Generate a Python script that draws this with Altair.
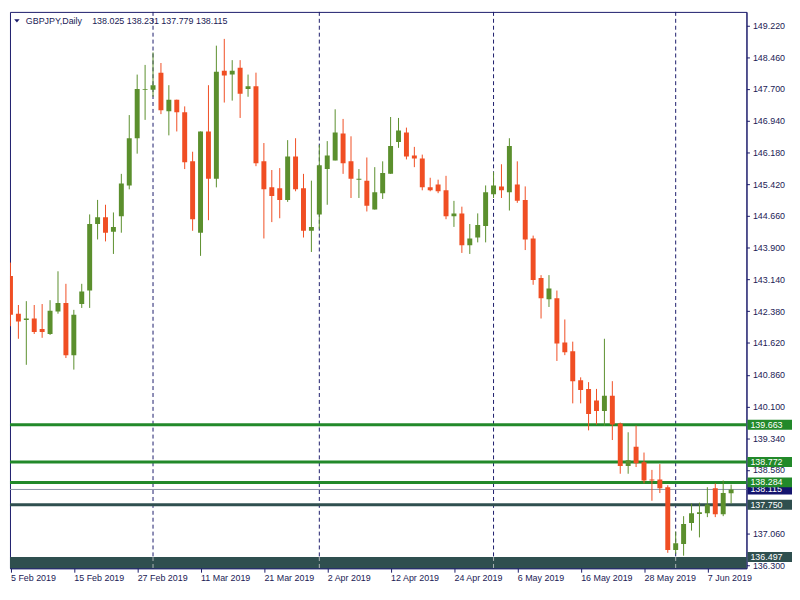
import altair as alt
import pandas as pd

symbol = "GBPJPY,Daily"

opens = [143.221, 142.321, 142.171, 142.206, 141.952, 141.836, 142.374, 142.575, 141.329, 142.552,
         142.875, 144.467, 144.628, 144.282, 144.651, 145.390, 146.520, 147.680, 147.681, 148.089,
         147.166, 147.443, 147.143, 145.967, 144.259, 146.682, 145.551, 148.135, 148.043, 148.205,
         147.697, 147.766, 145.967, 145.344, 145.320, 145.044, 146.082, 145.320, 144.305, 144.697,
         145.782, 145.990, 146.636, 145.967, 145.528, 145.505, 144.813, 145.205, 145.667, 146.428,
         146.659, 146.105, 146.036, 145.344, 145.413, 145.274, 144.651, 144.721, 143.959, 144.144,
         144.421, 145.182, 145.367, 145.228, 145.413, 145.044, 144.121, 143.175, 142.667, 142.690,
         141.629, 141.421, 140.729, 140.521, 140.244, 139.991, 140.360, 139.691, 138.675, 139.137,
         138.768, 138.352, 138.352, 138.168, 136.668, 136.807, 137.314, 137.529, 137.545, 138.145,
         137.522, 138.025]
highs = [143.544, 142.529, 142.621, 142.529, 142.552, 142.644, 143.336, 143.036, 142.413, 143.036,
         144.697, 145.044, 144.928, 144.744, 145.667, 147.074, 148.043, 148.274, 148.574, 148.320,
         147.789, 147.443, 147.282, 146.197, 146.682, 147.789, 148.735, 148.897, 148.389, 148.389,
         148.043, 148.089, 146.405, 145.759, 145.805, 146.474, 146.520, 145.667, 145.505, 146.359,
         146.451, 147.212, 146.982, 146.566, 145.782, 146.059, 145.828, 145.967, 147.028, 147.005,
         146.774, 146.313, 146.128, 145.574, 145.528, 145.620, 145.021, 144.882, 144.467, 144.721,
         145.390, 145.713, 145.897, 146.520, 145.967, 145.367, 144.190, 143.244, 143.244, 142.875,
         142.183, 141.652, 140.798, 140.683, 140.521, 141.721, 140.706, 139.714, 139.483, 139.644,
         138.998, 138.583, 138.722, 138.214, 137.106, 137.476, 137.776, 137.799, 138.168, 138.260,
         138.329, 138.231]
lows = [142.021, 141.721, 141.098, 141.836, 141.744, 141.813, 142.321, 141.260, 140.983, 142.459,
        142.459, 144.098, 144.051, 143.751, 144.259, 145.297, 146.151, 146.959, 147.512, 147.097,
        146.589, 146.682, 145.782, 144.305, 143.705, 144.559, 145.344, 147.374, 147.420, 147.005,
        147.512, 145.851, 144.121, 144.513, 144.605, 144.997, 145.251, 144.144, 143.798, 144.351,
        144.928, 145.990, 145.667, 145.090, 145.090, 144.767, 144.813, 145.067, 145.667, 146.290,
        146.013, 145.828, 145.274, 145.251, 145.205, 144.582, 144.398, 143.775, 143.751, 144.028,
        144.028, 145.090, 145.090, 144.790, 144.974, 143.844, 143.013, 142.206, 142.482, 141.190,
        141.329, 140.175, 140.175, 139.529, 139.668, 139.644, 139.298, 138.491, 138.491, 138.652,
        138.260, 137.845, 138.029, 136.599, 136.576, 136.530, 137.130, 136.968, 137.453, 137.453,
        137.476, 137.779]
closes = [142.298, 142.136, 142.206, 141.883, 141.883, 142.390, 142.575, 141.329, 142.298, 142.852,
          144.467, 144.628, 144.259, 144.398, 145.436, 146.520, 147.697, 147.700, 147.789, 147.189,
          147.443, 147.143, 145.943, 144.582, 146.682, 145.551, 148.112, 148.020, 148.135, 147.582,
          147.766, 145.920, 145.297, 145.136, 145.044, 146.082, 145.297, 144.305, 144.398, 145.874,
          146.105, 146.659, 145.920, 145.551, 145.551, 144.905, 145.228, 145.690, 146.336, 146.705,
          146.082, 146.036, 145.344, 145.274, 145.251, 144.651, 144.721, 143.959, 144.121, 144.444,
          145.228, 145.390, 145.274, 146.336, 145.021, 144.098, 143.129, 142.690, 142.921, 141.606,
          141.398, 140.706, 140.498, 139.921, 139.991, 140.360, 139.668, 138.675, 138.814, 138.745,
          138.329, 138.329, 138.145, 136.668, 136.830, 137.291, 137.545, 137.568, 137.753, 137.522,
          138.029, 138.115]

date_tick_index = [0, 8, 16, 24, 32, 40, 48, 56, 64, 72, 80, 88]
date_labels = ["5 Feb 2019", "15 Feb 2019", "27 Feb 2019", "11 Mar 2019", "21 Mar 2019",
               "2 Apr 2019", "12 Apr 2019", "24 Apr 2019", "6 May 2019", "16 May 2019",
               "28 May 2019", "7 Jun 2019"]
month_start_index = [18, 39, 61, 84]

price_ticks = [136.300, 137.060, 138.580, 139.340, 140.100, 140.860, 141.620, 142.380, 143.140,
               143.900, 144.660, 145.420, 146.180, 146.940, 147.700, 148.460, 149.220]

green_levels = [139.663, 138.772, 138.284]
slate_levels = [137.750]
bid_levels = [138.115]
band_levels = [136.497]

W, H = 744, 562
UP, DOWN = "#5B8F2D", "#F04E23"
NAVY = "#1B1B6B"
GREEN = "#22892A"
SLATE = "#2F4F4F"
BIDBOX = "#14146E"
TEXT = "#1A1A55"
FONT = "Liberation Sans"

n = len(opens)
candles = pd.DataFrame({"i": list(range(n)), "open": opens, "high": highs,
                        "low": lows, "close": closes})
candles["dir"] = ["up" if c >= o else "down" for o, c in zip(opens, closes)]

xs = alt.Scale(domain=[-0.0625, 92.9375], nice=False, zero=False, padding=0)
ys = alt.Scale(domain=[136.230, 149.543], nice=False, zero=False, padding=0)
col = alt.Color("dir:N", scale=alt.Scale(domain=["up", "down"], range=[UP, DOWN]), legend=None)

label_expr = ("[" + ",".join("'%s'" % d for d in date_labels) + "][indexof(["
              + ",".join(str(v) for v in date_tick_index) + "], datum.value)]")

x_axis = alt.Axis(values=date_tick_index, labelExpr=label_expr, labelAlign="left",
                  labelBaseline="top", tickSize=4, labelPadding=1, labelFlush=False,
                  labelOverlap=False, grid=False, title=None, domainColor=NAVY,
                  tickColor=NAVY, labelColor=TEXT, labelFont=FONT, labelFontSize=9)
y_axis = alt.Axis(orient="right", values=price_ticks, format=".3f", tickSize=3,
                  labelPadding=3, labelFlush=False, labelOverlap=False, grid=False,
                  title=None, domainColor=NAVY, tickColor=NAVY, labelColor=TEXT,
                  labelFont=FONT, labelFontSize=9)


def X(field):
    return alt.X(field, scale=xs, axis=x_axis)


def Y(field):
    return alt.Y(field, scale=ys, axis=y_axis)


# monthly separators
sep_df = pd.DataFrame({"i": month_start_index})
seps = alt.Chart(sep_df).mark_rule(color=NAVY, strokeDash=[4, 3], strokeWidth=1).encode(
    x=X("i:Q"))

# bottom band
band_df = pd.DataFrame({"p": band_levels})
band = alt.Chart(band_df).mark_rect(color=SLATE).encode(
    x=alt.value(0), x2=alt.value(W), y=Y("p:Q"), y2=alt.value(H))

band_sep_df = pd.DataFrame({"i": month_start_index, "p": band_levels * len(month_start_index)})
band_seps = alt.Chart(band_sep_df).mark_rule(color="#AEB6B6", strokeDash=[4, 3], strokeWidth=1).encode(
    x=X("i:Q"), y=Y("p:Q"), y2=alt.value(H))


def hline(vals, color, width):
    return alt.Chart(pd.DataFrame({"p": vals})).mark_rule(color=color, strokeWidth=width).encode(
        y=Y("p:Q"))


bid_line = hline(bid_levels, "#8A94A6", 1)
green_lines = hline(green_levels, GREEN, 3)
slate_line = hline(slate_levels, SLATE, 3)

wicks = alt.Chart(candles).mark_rule(strokeWidth=1, clip=True).encode(
    x=X("i:Q"), y=Y("low:Q"), y2="high:Q", color=col)
bodies = alt.Chart(candles).mark_bar(size=5, clip=True).encode(
    x=X("i:Q"), y=Y("open:Q"), y2="close:Q", color=col)


def tag(vals, color):
    base = alt.Chart(pd.DataFrame({"p": vals}))
    box = base.mark_rect(color=color, yOffset=-5, y2Offset=5).encode(
        x=alt.value(W + 1), x2=alt.value(W + 46), y=Y("p:Q"), y2="p:Q")
    txt = base.mark_text(color="white", align="left", baseline="middle", font=FONT,
                         fontSize=9).encode(
        x=alt.value(W + 4), y=Y("p:Q"), text=alt.Text("p:Q", format=".3f"))
    return box + txt


title_df = pd.DataFrame({"t": [symbol],
                         "q": ["%.3f %.3f %.3f %.3f" % (opens[-1], highs[-1], lows[-1], closes[-1])]})
tri = alt.Chart(title_df).mark_point(shape="M -1 -0.6 L 1 -0.6 L 0 0.6 Z", filled=True,
                                     size=30, color=NAVY, opacity=1).encode(
    x=alt.value(7), y=alt.value(9))
t1 = alt.Chart(title_df).mark_text(align="left", baseline="middle", font=FONT, fontSize=9,
                                   color=TEXT).encode(x=alt.value(16), y=alt.value(9), text="t:N")
t2 = alt.Chart(title_df).mark_text(align="left", baseline="middle", font=FONT, fontSize=9,
                                   color=TEXT).encode(x=alt.value(83), y=alt.value(9), text="q:N")

chart = alt.layer(
    seps, band, band_seps, bid_line, green_lines, slate_line, wicks, bodies,
    tag(bid_levels, BIDBOX), tag(green_levels, GREEN), tag(slate_levels, SLATE),
    tag(band_levels, SLATE), tri, t1, t2
).properties(width=W, height=H, padding=0, background="white").configure_view(
    stroke=NAVY, strokeWidth=1)

chart.save("out.html", embed_options={"renderer": "svg", "actions": False})
